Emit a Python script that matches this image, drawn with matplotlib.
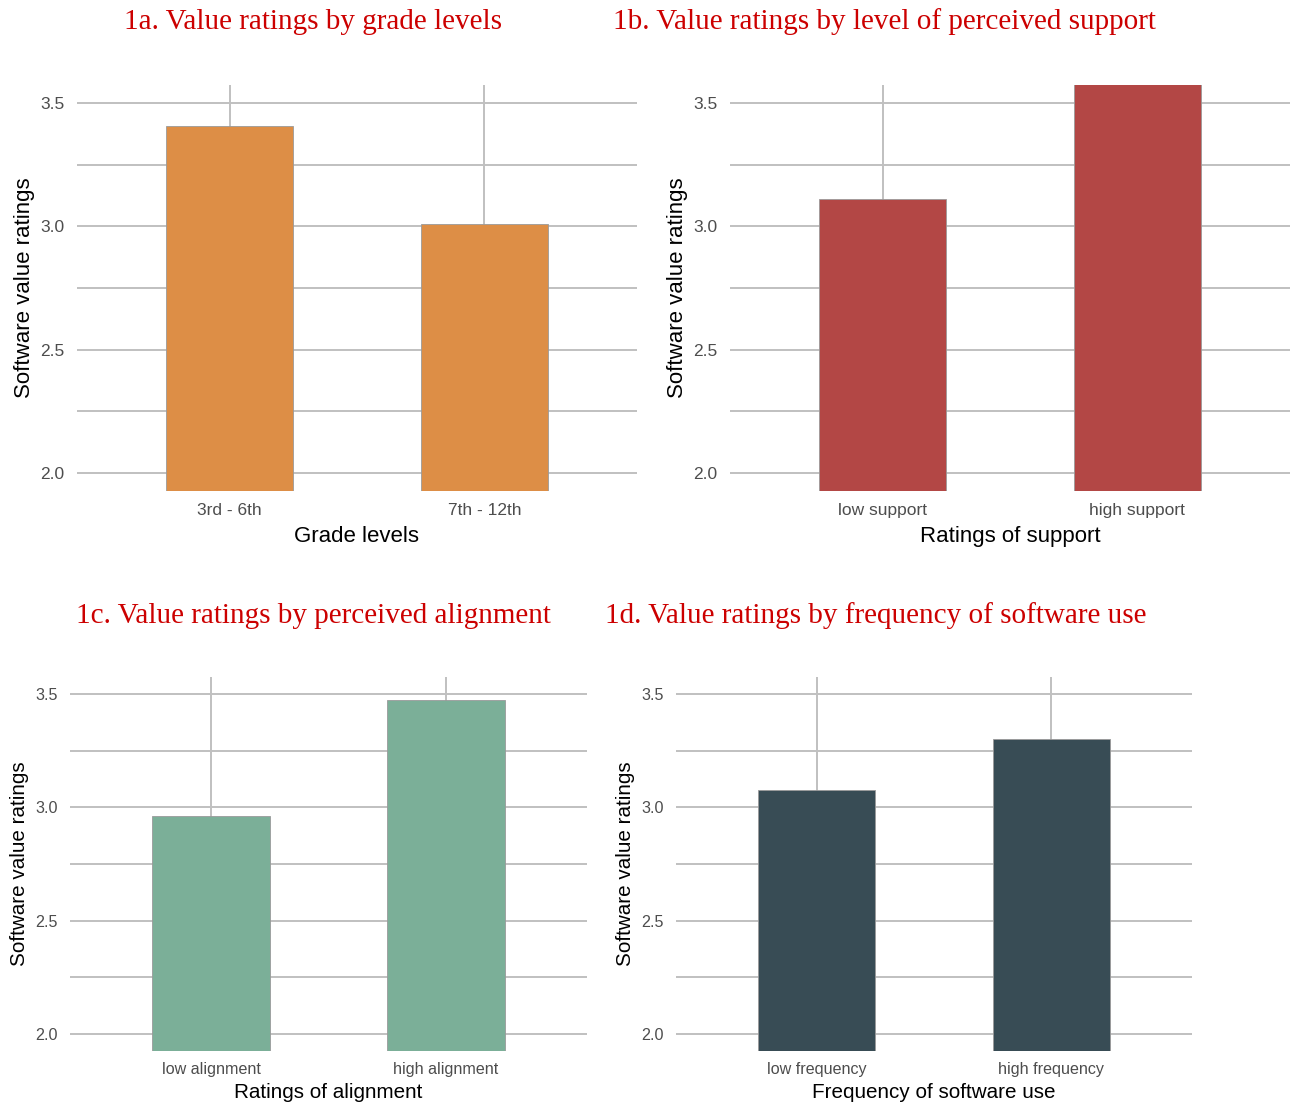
import matplotlib.pyplot as plt

# Mean software value ratings per group
grade_groups = ["3rd - 6th", "7th - 12th"]
grade_means = [3.41, 3.01]

support_groups = ["low support", "high support"]
support_means = [3.11, 3.58]

alignment_groups = ["low alignment", "high alignment"]
alignment_means = [2.96, 3.475]

frequency_groups = ["low frequency", "high frequency"]
frequency_means = [3.075, 3.30]

W, H = 1294, 1103
fig = plt.figure(figsize=(W / 100, H / 100), dpi=100)

SANS = ["Liberation Sans", "DejaVu Sans"]
SERIF = ["Liberation Serif", "DejaVu Serif"]
GRID = "#c0c0c0"


def panel(box, cats, vals, color, xlabel, title, title_xy, scale=1.0,
          xpad=6):
    # box is (left, top, right, bottom) in pixels
    l, t, r, b = box
    ax = fig.add_axes([l / W, 1 - b / H, (r - l) / W, (b - t) / H])
    x = list(range(1, len(cats) + 1))
    ax.bar(x, vals, width=0.5, color=color, edgecolor="#9a9a9a",
           linewidth=0.6, zorder=3)
    ax.set_xlim(0.4, 2.6)
    ax.set_ylim(1.925, 3.575)
    tick_fs = 12.5 * scale
    ax.set_xticks(x)
    ax.set_xticklabels(cats, family=SANS, fontsize=tick_fs, color="#4d4d4d")
    ax.set_yticks([2.0, 2.5, 3.0, 3.5])
    ax.set_yticks([2.25, 2.75, 3.25], minor=True)
    ax.set_yticklabels(["2.0", "2.5", "3.0", "3.5"], family=SANS,
                       fontsize=tick_fs, color="#4d4d4d")
    ax.tick_params(which="both", length=0, pad=9)
    ax.tick_params(axis="x", pad=8.5 * scale)
    ax.grid(axis="y", which="both", color=GRID, linewidth=1.4, zorder=0)
    ax.grid(axis="x", which="major", color=GRID, linewidth=1.4, zorder=0)
    ax.set_axisbelow(True)
    for s in ax.spines.values():
        s.set_visible(False)
    ax.set_xlabel(xlabel, family=SANS, fontsize=16 * scale, labelpad=xpad)
    ax.set_ylabel("Software value ratings", family=SANS, fontsize=16 * scale,
                  labelpad=4)
    fig.text(title_xy[0] / W, 1 - title_xy[1] / H, title, family=SERIF,
             fontsize=21, color="#cc0000", ha="center", va="center")
    return ax


panel((77, 85, 637, 491), grade_groups, grade_means, "#dd8e46",
      "Grade levels", "1a. Value ratings by grade levels", (313, 22))
panel((730, 85, 1290, 491), support_groups, support_means, "#b34745",
      "Ratings of support", "1b. Value ratings by level of perceived support",
      (884, 22))
panel((70, 677, 587, 1051), alignment_groups, alignment_means, "#7baf98",
      "Ratings of alignment", "1c. Value ratings by perceived alignment",
      (313, 616), scale=0.93, xpad=4.5)
panel((676, 677, 1192, 1051), frequency_groups, frequency_means, "#384c55",
      "Frequency of software use",
      "1d. Value ratings by frequency of software use", (876, 616),
      scale=0.93, xpad=4.5)

fig.savefig("out.png", dpi=100, facecolor="white")
